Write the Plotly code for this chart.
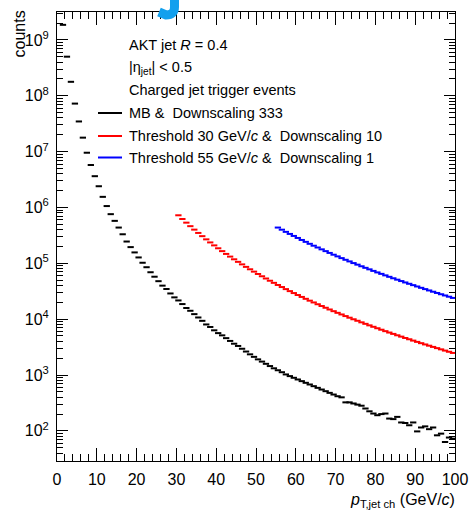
import plotly.graph_objects as go

# ---------------- data ----------------
black_x = [k + 0.5 for k in range(1, 100)]
black_log10 = [
    9.27, 8.70, 8.25, 7.86, 7.54, 7.25, 6.98, 6.76, 6.56, 6.38,
    6.19, 6.025, 5.88, 5.76, 5.64, 5.52, 5.39, 5.29, 5.195, 5.105,
    5.01, 4.93, 4.84, 4.76, 4.68, 4.60, 4.54, 4.46, 4.39, 4.335,
    4.27, 4.20, 4.15, 4.09, 4.03, 3.97, 3.905, 3.86, 3.80, 3.75,
    3.71, 3.66, 3.61, 3.56, 3.52, 3.47, 3.42, 3.37, 3.325, 3.28,
    3.24, 3.20, 3.16, 3.12, 3.085, 3.05, 3.01, 2.98, 2.95, 2.92,
    2.89, 2.86, 2.83, 2.80, 2.77, 2.74, 2.71, 2.68, 2.65, 2.62,
    2.60, 2.51, 2.51, 2.49, 2.47, 2.45, 2.40, 2.35, 2.31, 2.28,
    2.30, 2.31, 2.22, 2.21, 2.25, 2.15, 2.14, 2.10, 2.15, 1.99,
    2.06, 2.08, 2.03, 2.06, 1.92, 1.95, 1.80, 1.88, 1.86,
]

red_x = [k + 0.5 for k in range(30, 100)]
red_log10 = [
    5.860, 5.793, 5.728, 5.665, 5.603, 5.544, 5.486, 5.429, 5.374, 5.321,
    5.269, 5.218, 5.168, 5.120, 5.072, 5.026, 4.981, 4.936, 4.893, 4.851,
    4.809, 4.768, 4.728, 4.688, 4.650, 4.612, 4.575, 4.538, 4.502, 4.467,
    4.432, 4.398, 4.364, 4.331, 4.299, 4.267, 4.235, 4.204, 4.173, 4.143,
    4.113, 4.084, 4.055, 4.026, 3.998, 3.971, 3.943, 3.916, 3.889, 3.863,
    3.837, 3.811, 3.785, 3.760, 3.736, 3.711, 3.687, 3.663, 3.640, 3.616,
    3.593, 3.570, 3.547, 3.525, 3.503, 3.481, 3.459, 3.437, 3.416, 3.395,
]

blue_x = [k + 0.5 for k in range(55, 100)]
blue_log10 = [
    5.640, 5.602, 5.563, 5.526, 5.490, 5.454, 5.418, 5.384, 5.349, 5.315,
    5.283, 5.250, 5.218, 5.186, 5.154, 5.124, 5.093, 5.063, 5.034, 5.004,
    4.976, 4.947, 4.919, 4.892, 4.864, 4.837, 4.811, 4.784, 4.758, 4.732,
    4.707, 4.682, 4.657, 4.633, 4.609, 4.585, 4.561, 4.538, 4.514, 4.491,
    4.469, 4.446, 4.424, 4.402, 4.380,
]

x_ticks = [0, 10, 20, 30, 40, 50, 60, 70, 80, 90, 100]
y_tick_exp = [2, 3, 4, 5, 6, 7, 8, 9]

series_names = ["MB &\u00a0 Downscaling 333",
                "Threshold 30 GeV/<i>c</i> &\u00a0 Downscaling 10",
                "Threshold 55 GeV/<i>c</i> &\u00a0 Downscaling 1"]
series_colors = ["#000000", "#ff0000", "#0000ff"]

# ---------------- layout geometry ----------------
W, H = 469, 512
L, R, T, B = 57, 14, 12, 51
PW, PH = W - L - R, H - T - B
FONT = "Liberation Sans, Arial, Helvetica, sans-serif"
X_RANGE = [0, 100]
Y_RANGE = [1.46, 9.5]


def px2x(px):
    return (px - L) / PW


def py2y(py):
    return (H - B - py) / PH


fig = go.Figure()
for xs, ls, col, name in [(black_x, black_log10, series_colors[0], series_names[0]),
                          (red_x, red_log10, series_colors[1], series_names[1]),
                          (blue_x, blue_log10, series_colors[2], series_names[2])]:
    fig.add_trace(go.Scatter(
        x=xs, y=[10 ** v for v in ls], mode="markers", name=name,
        marker=dict(symbol="line-ew", size=4.5, color=col,
                    line=dict(color=col, width=2)),
        showlegend=False, cliponaxis=True))

# invisible trace on the mirrored (top / right) axes so their ticks are drawn
fig.add_trace(go.Scatter(x=[black_x[0]], y=[10 ** black_log10[0]], xaxis="x2", yaxis="y2",
                         mode="markers", marker=dict(opacity=0), showlegend=False,
                         hoverinfo="skip"))

fig.update_layout(
    width=W, height=H, margin=dict(l=L, r=R, t=T, b=B, pad=0, autoexpand=False),
    paper_bgcolor="white", plot_bgcolor="white",
    font=dict(family=FONT, size=16, color="black"),
    xaxis=dict(
        range=X_RANGE, showgrid=False, zeroline=False, automargin=False,
        showline=True, linecolor="black", linewidth=1, mirror=True,
        ticks="inside", ticklen=13, tickwidth=1, tickcolor="black",
        tickvals=x_ticks, ticktext=[str(v) for v in x_ticks],
        minor=dict(ticks="inside", ticklen=7, tickwidth=1, tickcolor="black", dtick=2),
        tickfont=dict(size=16), ticklabelstandoff=4,
    ),
    yaxis=dict(
        type="log", range=Y_RANGE, showgrid=False, zeroline=False, automargin=False,
        showline=True, linecolor="black", linewidth=1, mirror=True,
        ticks="inside", ticklen=11, tickwidth=1, tickcolor="black",
        tickvals=[10 ** e for e in y_tick_exp],
        ticktext=["10<sup>%d</sup>" % e for e in y_tick_exp],
        minor=dict(ticks="inside", ticklen=6, tickwidth=1, tickcolor="black", dtick="D1"),
        tickfont=dict(size=16), ticklabelstandoff=4,
    ),
    xaxis2=dict(
        overlaying="x", side="top", range=X_RANGE, showgrid=False, zeroline=False,
        automargin=False, showticklabels=False,
        ticks="inside", ticklen=13, tickwidth=1, tickcolor="black",
        tickvals=x_ticks,
        minor=dict(ticks="inside", ticklen=7, tickwidth=1, tickcolor="black", dtick=2),
    ),
    yaxis2=dict(
        overlaying="y", side="right", type="log", range=Y_RANGE, showgrid=False,
        zeroline=False, automargin=False, showticklabels=False,
        ticks="inside", ticklen=11, tickwidth=1, tickcolor="black",
        tickvals=[10 ** e for e in y_tick_exp],
        minor=dict(ticks="inside", ticklen=6, tickwidth=1, tickcolor="black", dtick="D1"),
    ),
)

ann = []
# axis titles
ann.append(dict(text="counts", textangle=-90, xref="paper", yref="paper",
                x=px2x(19), y=py2y(9), xanchor="center", yanchor="top",
                showarrow=False, font=dict(size=16)))
ann.append(dict(text="<i>p</i><sub>T,jet ch</sub> (GeV/<i>c</i>)", xref="paper", yref="paper",
                x=px2x(457), y=py2y(500), xanchor="right", yanchor="middle",
                showarrow=False, font=dict(size=16)))

# header text
TX = 127
header = ["AKT jet <i>R</i> = 0.4",
          "|η<sub>jet</sub>| &lt; 0.5",
          "Charged jet trigger events"]
rows_y = [45, 68, 90, 113, 136, 157.5]
for txt, yy in zip(header, rows_y[:3]):
    ann.append(dict(text=txt, xref="paper", yref="paper", x=px2x(TX), y=py2y(yy),
                    xanchor="left", yanchor="middle", showarrow=False,
                    font=dict(size=14.5)))
shapes = []
for name, col, yy in zip(series_names, series_colors, rows_y[3:]):
    ann.append(dict(text=name, xref="paper", yref="paper", x=px2x(TX), y=py2y(yy),
                    xanchor="left", yanchor="middle", showarrow=False,
                    font=dict(size=14.5)))
    shapes.append(dict(type="line", xref="paper", yref="paper",
                       x0=px2x(98), x1=px2x(122), y0=py2y(yy), y1=py2y(yy),
                       line=dict(color=col, width=2)))

# clipped blue logo fragment at the top edge
shapes.append(dict(type="path", xref="paper", yref="paper",
                   path="M %f,%f L %f,%f Q %f,%f %f,%f L %f,%f" % (
                       px2x(174.5), py2y(-3), px2x(174.5), py2y(7),
                       px2x(174.5), py2y(15), px2x(166), py2y(15),
                       px2x(159), py2y(12)),
                   line=dict(color="#12a0ee", width=9)))

fig.update_layout(annotations=ann, shapes=shapes)
fig.write_html("out.html")
